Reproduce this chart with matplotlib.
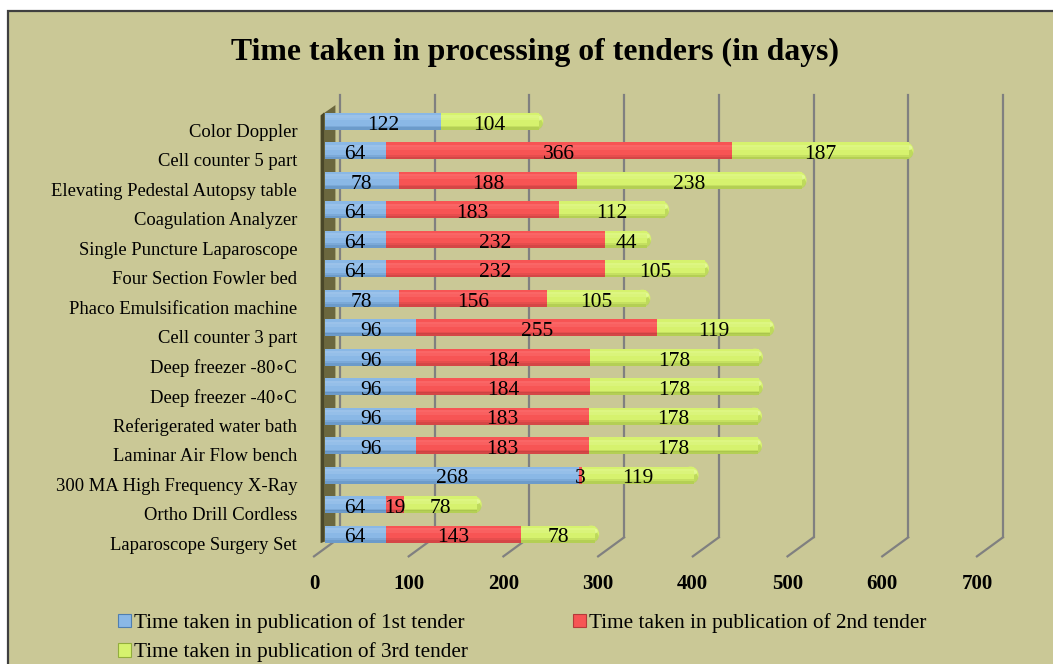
import matplotlib.pyplot as plt
from matplotlib.patches import Rectangle, Polygon, Patch, Ellipse
from matplotlib.lines import Line2D
from matplotlib.transforms import offset_copy, ScaledTranslation

# data (bottom to top as drawn)
categories = [
    'Laparoscope Surgery Set', 'Ortho Drill Cordless', '300 MA High Frequency X-Ray',
    'Laminar Air Flow bench', 'Referigerated water bath', 'Deep freezer -40\u2218C',
    'Deep freezer -80\u2218C', 'Cell counter 3 part', 'Phaco Emulsification machine',
    'Four Section Fowler bed', 'Single Puncture Laparoscope', 'Coagulation Analyzer',
    'Elevating Pedestal Autopsy table', 'Cell counter 5 part', 'Color Doppler',
]
first_tender = [64, 64, 268, 96, 96, 96, 96, 96, 78, 64, 64, 64, 78, 64, 122]
second_tender = [143, 19, 3, 183, 183, 184, 184, 255, 156, 232, 232, 183, 188, 366, 0]
third_tender = [78, 78, 119, 178, 178, 178, 178, 119, 105, 105, 44, 112, 238, 187, 104]

series_names = ['Time taken in publication of 1st tender',
                'Time taken in publication of 2nd tender',
                'Time taken in publication of 3rd tender']
colors = ['#8AB8E6', '#F75454', '#D6F26E']
dark = ['#4F7FB0', '#B53A3A', '#93AE3C']
light = ['#B0D0F0', '#FF7E7E', '#E6FB9C']
x_ticks = [0, 100, 200, 300, 400, 500, 600, 700]

BG = '#CAC896'
plt.rcParams['font.family'] = ['Liberation Serif', 'DejaVu Serif']

fig = plt.figure(figsize=(10.53, 6.64), dpi=100)
fig.patch.set_facecolor('white')
fig.patches.append(Rectangle((8 / 1053, -0.1), 1.1, (664 - 11) / 664 + 0.1,
                             transform=fig.transFigure, facecolor=BG,
                             edgecolor='#404040', linewidth=1.6, zorder=-10))

ax = fig.add_axes([325 / 1053, 0.169, 715 / 1053, 0.675])
ax.set_facecolor('none')
ax.set_xlim(0, 755)
ax.set_ylim(-0.6, 14.6)
for s in ax.spines.values():
    s.set_visible(False)

back = offset_copy(ax.transData, fig, x=15, y=10, units='dots')
front = offset_copy(ax.transData, fig, x=-11, y=-9, units='dots')

# back grid lines and floor diagonals
for v in x_ticks:
    ax.plot([v, v], [-0.45, 14.54], transform=back, color='#808080', lw=1.6,
            clip_on=False, zorder=0)
    p0 = back.transform((v, -0.45))
    p1 = front.transform((v, -0.45))
    fig.add_artist(Line2D([p0[0], p1[0]], [p0[1], p1[1]], transform=None,
                          color='#808080', lw=1.6, zorder=0))

# left wall
ax.add_patch(Polygon([(-4.5, -0.3), (-4.5, 14.2), (11, 14.55), (11, -0.15)],
                     closed=True, facecolor='#6B673E', edgecolor='none',
                     clip_on=False, zorder=0.5))
ax.add_patch(Polygon([(-4.5, -0.3), (-4.5, 14.2), (-1, 14.3), (-1, -0.25)],
                     closed=True, facecolor='#4A4729', edgecolor='none',
                     clip_on=False, zorder=0.6))

y = list(range(len(categories)))
h = 0.58
# shading stripes: (offset from centre, height fraction, alpha) for dark / light
dark_stripes = [(-0.42, 0.16, 0.5), (-0.30, 0.10, 0.25)]
light_stripes = [(0.14, 0.16, 0.3), (0.28, 0.12, 0.45)]

totals = [a + b + c for a, b, c in zip(first_tender, second_tender, third_tender)]
for i, t in enumerate(totals):
    ax.add_patch(Ellipse((t - 4, i), 17, h, facecolor=colors[2], edgecolor='none', zorder=1.9))
    ax.add_patch(Ellipse((t - 4, i - h * 0.15), 16, h * 0.7, facecolor=dark[2],
                         alpha=0.35, edgecolor='none', zorder=1.95))
    ax.add_patch(Ellipse((t - 1, i + h * 0.18), 8, h * 0.3, facecolor=light[2],
                         alpha=0.8, edgecolor='none', zorder=1.96))

left = [0] * len(categories)
for vals, c, dk, lt, name in zip([first_tender, second_tender, third_tender],
                                 colors, dark, light, series_names):
    ax.barh(y, vals, left=left, height=h, color=c, zorder=2, label=name)
    for off, frac, a in dark_stripes:
        ax.barh([i + h * off for i in y], vals, left=left, height=h * frac,
                color=dk, alpha=a, zorder=2.1, linewidth=0)
    for off, frac, a in light_stripes:
        ax.barh([i + h * off for i in y], vals, left=left, height=h * frac,
                color=lt, alpha=a, zorder=2.1, linewidth=0)
    for i, (l, v) in enumerate(zip(left, vals)):
        if v > 0:
            ax.text(l + v / 2, i - 0.13, str(v), ha='center', va='center',
                    fontsize=15.5, color='black', zorder=3)
    left = [a + b for a, b in zip(left, vals)]

ax.set_yticks(y)
ax.set_yticklabels(categories, fontsize=13.4)
ax.tick_params(axis='y', length=0, pad=20)
for lab in ax.get_yticklabels():
    lab.set_transform(lab.get_transform() + ScaledTranslation(0, -9 / 100, fig.dpi_scale_trans))

ax.set_xticks(x_ticks)
ax.set_xticklabels([str(t) for t in x_ticks], fontsize=15, fontweight='bold')
ax.tick_params(axis='x', length=0, pad=16)
for lab in ax.get_xticklabels():
    lab.set_transform(lab.get_transform() + ScaledTranslation(-11 / 100, 0, fig.dpi_scale_trans))

fig.text(535 / 1053, 1 - 52 / 664, 'Time taken in processing of tenders (in days)',
         ha='center', va='center', fontsize=22.9, fontweight='bold')

handles = [Patch(facecolor=c, edgecolor=d, linewidth=0.8) for c, d in zip(colors, dark)]
order = [0, 2, 1]
fig.legend([handles[k] for k in order], [series_names[k] for k in order],
           ncol=2, loc='upper left',
           bbox_to_anchor=(99 / 1053, 1 - 594 / 664), frameon=False,
           fontsize=15.3, handlelength=0.6, handleheight=0.6, handletextpad=0.15,
           columnspacing=4.95, labelspacing=0.45)

fig.savefig('out.png', dpi=100, facecolor=fig.get_facecolor())
